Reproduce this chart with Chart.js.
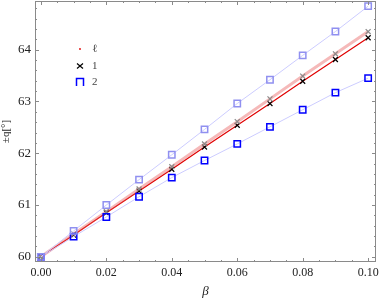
<!DOCTYPE html>
<html>
<head>
<meta charset="utf-8">
<script src="https://cdn.jsdelivr.net/npm/chart.js@4"></script>
<style>
  html, body { margin: 0; padding: 0; background: #fff; }
  #wrap { width: 380px; height: 299px; position: relative; }
</style>
</head>
<body>
<div id="wrap"><canvas id="c"></canvas></div>
<script>
const beta = [0, 0.01, 0.02, 0.03, 0.04, 0.05, 0.06, 0.07, 0.08, 0.09, 0.10];
const upperSquares = [60.0, 60.5, 61.0, 61.49, 61.97, 62.46, 62.96, 63.42, 63.89, 64.35, 64.84];
const lowerSquares = [60.0, 60.39, 60.77, 61.16, 61.53, 61.86, 62.18, 62.51, 62.84, 63.17, 63.45];
const grayCrosses = [60.0, 60.44, 60.87, 61.31, 61.74, 62.18, 62.61, 63.05, 63.49, 63.92, 64.35];
const blackCrosses = [60.0, 60.42, 60.85, 61.27, 61.69, 62.12, 62.54, 62.96, 63.39, 63.81, 64.23];
const legendLabels = ['ℓ', '1', '2'];
const xTickLabels = ['0.00', '0.02', '0.04', '0.06', '0.08', '0.10'];
const yTickLabels = ['60', '61', '62', '63', '64'];

const pts = arr => beta.map((b, i) => ({ x: b, y: arr[i] }));
const serif = "'Liberation Serif', 'DejaVu Serif', serif";

// frame with inward ticks on all four sides + inline legend
const frame = {
  id: 'frame',
  afterDraw(chart) {
    const { ctx, chartArea: a, scales: { x, y } } = chart;
    ctx.save();
    ctx.strokeStyle = '#8a8a8a';
    ctx.lineWidth = 1;
    ctx.strokeRect(a.left + 0.5, a.top + 0.5, a.right - a.left - 1, a.bottom - a.top - 1);
    ctx.beginPath();
    for (let i = 0; i <= 20; i++) {
      const v = i * 0.005;
      const px = Math.round(x.getPixelForValue(v)) + 0.5;
      const len = i % 4 === 0 ? 4 : 2;
      ctx.moveTo(px, a.bottom); ctx.lineTo(px, a.bottom - len);
      ctx.moveTo(px, a.top); ctx.lineTo(px, a.top + len);
    }
    for (let i = 0; i <= 25; i++) {
      const v = 60 + i * 0.2;
      if (v > y.max) break;
      const py = Math.round(y.getPixelForValue(v)) + 0.5;
      const len = i % 5 === 0 ? 4 : 2;
      ctx.moveTo(a.left, py); ctx.lineTo(a.left + len, py);
      ctx.moveTo(a.right, py); ctx.lineTo(a.right - len, py);
    }
    ctx.stroke();

    // legend
    const lx = 80, ly = [49, 66, 82];
    ctx.fillStyle = '#e00000';
    ctx.beginPath(); ctx.arc(lx, ly[0], 0.9, 0, Math.PI * 2); ctx.fill();
    ctx.strokeStyle = '#000';
    ctx.lineWidth = 1.2;
    ctx.beginPath();
    ctx.moveTo(lx - 3, ly[1] - 2.5); ctx.lineTo(lx + 3, ly[1] + 2.5);
    ctx.moveTo(lx + 3, ly[1] - 2.5); ctx.lineTo(lx - 3, ly[1] + 2.5);
    ctx.stroke();
    ctx.strokeStyle = '#0000ff';
    ctx.lineWidth = 1.5;
    ctx.beginPath();
    ctx.moveTo(lx - 3.5, ly[2] + 4); ctx.lineTo(lx - 3.5, ly[2] - 3.5);
    ctx.lineTo(lx + 3.5, ly[2] - 3.5); ctx.lineTo(lx + 3.5, ly[2] + 4);
    ctx.stroke();
    ctx.fillStyle = '#444';
    ctx.font = '11px ' + serif;
    ctx.textBaseline = 'middle';
    legendLabels.forEach((t, i) => ctx.fillText(t, 92, ly[i]));
    ctx.restore();
  }
};

new Chart(document.getElementById('c'), {
  type: 'scatter',
  data: {
    datasets: [
      {
        label: 'upper squares',
        data: pts(upperSquares),
        showLine: true,
        borderColor: '#ccccff',
        borderWidth: 1,
        pointStyle: 'rect',
        pointRadius: 4.5,
        pointBorderColor: '#9090f0',
        pointBackgroundColor: 'rgba(255,255,255,0)',
        pointBorderWidth: 1.5
      },
      {
        label: 'lower squares',
        data: pts(lowerSquares),
        showLine: true,
        borderColor: '#ccccff',
        borderWidth: 1,
        pointStyle: 'rect',
        pointRadius: 4.5,
        pointBorderColor: '#0000ff',
        pointBackgroundColor: 'rgba(255,255,255,0)',
        pointBorderWidth: 1.5
      },
      {
        label: 'gray crosses',
        data: pts(grayCrosses),
        showLine: true,
        borderColor: 'rgba(230,80,80,0.4)',
        borderWidth: 3,
        pointStyle: 'crossRot',
        pointRadius: 3.5,
        pointBorderColor: '#8a8a8a',
        pointBorderWidth: 1.2
      },
      {
        label: 'black crosses',
        data: pts(blackCrosses),
        showLine: true,
        borderColor: '#e00000',
        borderWidth: 1.2,
        pointStyle: 'crossRot',
        pointRadius: 3.5,
        pointBorderColor: '#000000',
        pointBorderWidth: 1.2
      }
    ]
  },
  options: {
    responsive: true,
    maintainAspectRatio: false,
    animation: false,
    layout: { autoPadding: false, padding: { top: 1, right: 4, left: 0, bottom: 0 } },
    plugins: { legend: { display: false }, tooltip: { enabled: false } },
    scales: {
      x: {
        type: 'linear',
        min: -0.0018,
        max: 0.1024,
        afterBuildTicks: s => { s.ticks = xTickLabels.map(t => ({ value: parseFloat(t) })); },
        afterFit: s => { s.height = 37; s.paddingRight = 0; s.paddingLeft = 0; },
        grid: { display: false, drawTicks: false },
        border: { display: false },
        ticks: {
          color: '#222',
          padding: 4,
          font: { family: serif, size: 12 },
          callback: v => v.toFixed(2)
        },
        title: {
          display: true,
          text: 'β',
          color: '#222',
          padding: { top: 4, bottom: 0 },
          font: { family: serif, size: 13, style: 'italic' }
        }
      },
      y: {
        min: 59.9,
        max: 64.94,
        afterBuildTicks: s => { s.ticks = yTickLabels.map(t => ({ value: parseFloat(t) })); },
        afterFit: s => { s.width = 35; s.paddingTop = 0; s.paddingBottom = 0; },
        grid: { display: false, drawTicks: false },
        border: { display: false },
        ticks: {
          color: '#222',
          padding: 4,
          font: { family: serif, size: 13 },
          callback: v => String(v)
        },
        title: {
          display: true,
          text: '±q[°]',
          color: '#222',
          padding: { top: 0, bottom: 0 },
          font: { family: serif, size: 11 }
        }
      }
    }
  },
  plugins: [frame]
});
</script>
</body>
</html>
